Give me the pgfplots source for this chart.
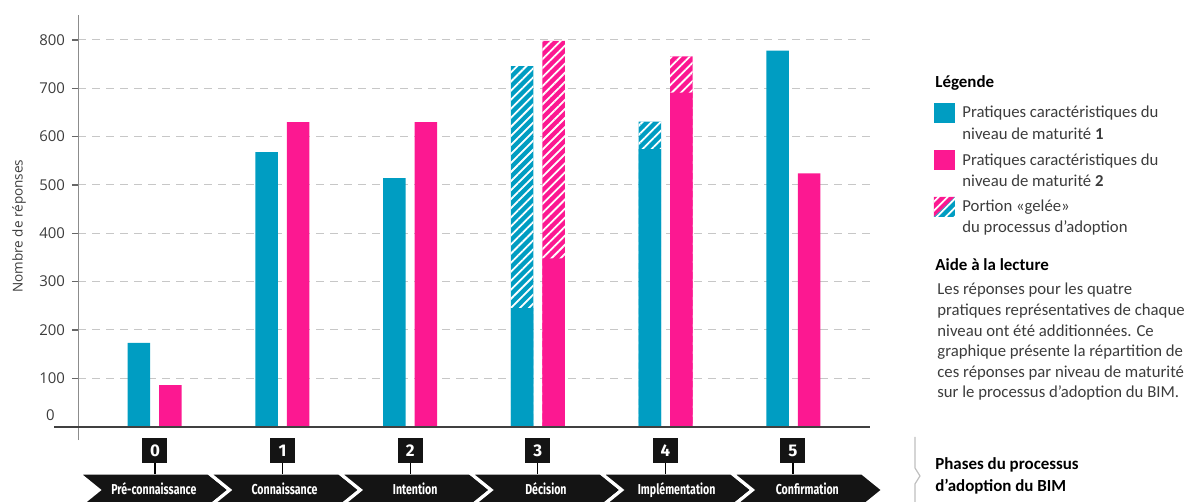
\documentclass[border=0pt]{standalone}
\usepackage{pgfplots}
\pgfplotsset{compat=1.18}
\usetikzlibrary{patterns.meta}
\usepackage{fontspec}
\setmainfont{Carlito}
\newfontfamily\osans{Open Sans}
\newfontfamily\fira{Fira Sans}
\definecolor{cteal}{RGB}{0,157,194}
\definecolor{cpink}{RGB}{252,24,145}
\definecolor{txt}{RGB}{60,60,60}
\begin{document}
\begin{tikzpicture}
\path[use as bounding box] (0,0) rectangle (596bp,251bp);
\begin{axis}[
  at={(39bp,31bp)}, anchor=south west,
  scale only axis, width=396bp, height=212.5bp,
  xmin=-0.6, xmax=5.6, ymin=-27.7, ymax=851.6,
  axis x line=none, axis y line=left,
  axis line style={-, draw=black!45, line width=0.5bp},
  ytick={100,200,...,800}, xtick=\empty,
  tick align=outside, major tick length=3bp,
  tick style={draw=black!60, line width=0.6bp},
  ymajorgrids, grid style={draw=black!22, line width=0.5bp, dash pattern=on 4bp off 3bp},
  /pgf/number format/assume math mode=true,
  yticklabel style={font=\osans\fontsize{7.5}{9}\selectfont, text=txt},
  ylabel={Nombre de réponses},
  every axis y label/.style={at={(axis description cs:-0.0745,0.503)}, rotate=90, anchor=center, font=\osans\fontsize{6.8}{8}\selectfont, text=txt},
  clip=false,
]
% hatched ("gelée") totals
\addplot[ybar, bar width=0.176, bar shift=-0.123, fill=cteal, draw=none,
  postaction={pattern={Lines[angle=45,distance=3.2bp,line width=0.9bp]}, pattern color=white}]
  coordinates {(3,746) (4,631)};
\addplot[ybar, bar width=0.176, bar shift=0.123, fill=cpink, draw=none,
  postaction={pattern={Lines[angle=45,distance=3.2bp,line width=0.9bp]}, pattern color=white}]
  coordinates {(3,798) (4,766)};
% solid portions
\addplot[ybar, bar width=0.176, bar shift=-0.123, fill=cteal, draw=none]
  coordinates {(0,173) (1,568) (2,514) (3,245) (4,574) (5,778)};
\addplot[ybar, bar width=0.176, bar shift=0.123, fill=cpink, draw=none]
  coordinates {(0,86) (1,630) (2,630) (3,348) (4,691) (5,524)};
\draw[draw=black!75, line width=0.9bp] (axis cs:-0.784,0) -- (axis cs:5.6,0);
\end{axis}
\begin{scope}[x=0.5bp, y=-0.5bp, shift={(0,251bp)}]
  \node[anchor=east, inner sep=0pt, font=\osans\fontsize{7.5}{9}\selectfont, text=txt] at (55,415) {0};
  % chevrons
  \foreach \i/\lab in {0/Pré-connaissance, 1/Connaissance, 2/Intention, 3/Décision, 4/Implémentation, 5/Confirmation} {
    \pgfmathsetmacro\xl{78+\i*130.7}
    \pgfmathsetmacro\xr{\xl+130.7}
    \fill[black!92, draw=white, line width=1.6bp, line join=miter]
      (\xl,473) -- (\xr,473) -- ({\xr+21},490) -- (\xr,507) -- (\xl,507) -- ({\xl+21},490) -- cycle;
    \node[anchor=base, text=white, inner sep=0pt, font=\fira\bfseries\fontsize{7.2}{8}\selectfont]
      at ({(\xl+\xr)/2+10.5},495) {\scalebox{0.74}[1]{\lab}};
  }
  % number boxes
  \foreach \i in {0,...,5} {
    \pgfmathsetmacro\cx{155+\i*127.6}
    \draw[black, line width=0.6bp] (\cx,462) -- (\cx,474);
    \fill[black!92] ({\cx-12.5},438) rectangle ({\cx+12.5},463);
    \node[anchor=base, text=white, inner sep=0pt, font=\fira\bfseries\fontsize{8.5}{9}\selectfont] at (\cx,457) {\i};
  }
  % legend
  \node[anchor=base west, inner sep=0pt, font=\bfseries\fontsize{8.5}{10}\selectfont] at (935,88) {Légende};
  \fill[cteal] (934,103) rectangle (955,123);
  \fill[cpink] (934,150) rectangle (955,170.5);
  \fill[cpink] (934,197) -- (955,197) -- (934,217) -- cycle;
  \fill[cteal] (955,197) -- (955,217) -- (934,217) -- cycle;
  \fill[pattern={Lines[angle=45,distance=3.2bp,line width=0.9bp]}, pattern color=white] (934,197) rectangle (955,217);
  \begin{scope}[every node/.style={anchor=base west, inner sep=0pt, text=txt, font=\fontsize{8.4}{9}\selectfont}]
    \node at (962,118) {Pratiques caractéristiques du};
    \node at (962,140) {niveau de maturité \textbf{1}};
    \node at (962,166) {Pratiques caractéristiques du};
    \node at (962,187) {niveau de maturité \textbf{2}};
    \node at (962,212) {Portion «gelée»};
    \node at (962,233) {du processus d’adoption};
    \node at (937,295) {Les réponses pour les quatre};
    \node at (937,316) {pratiques représentatives de chaque};
    \node at (937,336.5) {niveau ont été additionnées. Ce};
    \node at (937,357) {graphique présente la répartition de};
    \node at (937,377.5) {ces réponses par niveau de maturité};
    \node at (937,398) {sur le processus d’adoption du BIM.};
  \end{scope}
  \node[anchor=base west, inner sep=0pt, font=\bfseries\fontsize{8.5}{10}\selectfont] at (935,270.5) {Aide à la lecture};
  \node[anchor=base west, inner sep=0pt, font=\bfseries\fontsize{8.5}{10}\selectfont] at (935,470) {Phases du processus};
  \node[anchor=base west, inner sep=0pt, font=\bfseries\fontsize{8.5}{10}\selectfont] at (935,491.5) {d’adoption du BIM};
  \draw[black!25, line width=0.6bp] (915,437) -- (915,468) -- (920,476) -- (915,484) -- (915,502);
\end{scope}
\end{tikzpicture}
\end{document}
